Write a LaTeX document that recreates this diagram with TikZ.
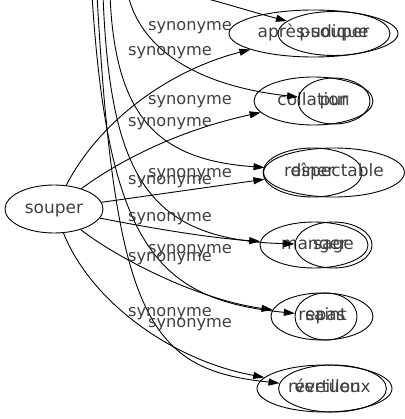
\documentclass[tikz,border=0pt]{standalone}
\usepackage{fontspec}
\setmainfont{DejaVu Sans}
\usepackage{tikz}
\usetikzlibrary{shapes.geometric}
\usetikzlibrary{arrows.meta}

\begin{document}
\begin{tikzpicture}[x=1pt, y=-1pt,
		mot/.style={ellipse, draw, line width=0.9pt, inner sep=0pt, text height=12pt, text depth=3.5pt, text=black!75, font=\fontsize{17}{19}\selectfont},
		lien/.style={line width=0.9pt, -{Triangle[length=11pt, width=7pt]}},
		syn/.style={text=black!75, inner sep=0pt, text height=12pt, text depth=3.5pt, font=\fontsize{16.2}{19}\selectfont}]
		\useasboundingbox (0,0) rectangle (404,419);
		% noeuds
		\node[mot, minimum width=98pt, minimum height=48pt] (souper) at (54,209) {souper};
		\node[mot, minimum width=169pt, minimum height=47pt] (apres) at (313.5,33.5) {après-souper};
		\node[mot, minimum width=112pt, minimum height=44pt] (pudique) at (334,33.5) {pudique};
		\node[mot, minimum width=119pt, minimum height=48pt] (collation) at (313.5,101) {collation};
		\node[mot, minimum width=72pt, minimum height=46pt] (pur) at (334,101) {pur};
		\node[mot, minimum width=99pt, minimum height=49pt] (diner) at (312.5,172.5) {dîner};
		\node[mot, minimum width=138pt, minimum height=49pt] (respectable) at (334,172.5) {respectable};
		\node[mot, minimum width=108pt, minimum height=46pt] (manger) at (314,245) {manger};
		\node[mot, minimum width=77pt, minimum height=46pt] (sage) at (333.5,245) {sage};
		\node[mot, minimum width=102pt, minimum height=47pt] (repas) at (322,316.5) {repas};
		\node[mot, minimum width=62pt, minimum height=47pt] (saint) at (326,316.5) {saint};
		\node[mot, minimum width=135pt, minimum height=47pt] (reveillon) at (324.5,388.5) {réveillon};
		\node[mot, minimum width=95pt, minimum height=47pt] (vertueux) at (332.5,388.5) {vertueux};
		% bouts hors cadre
		\coordinate (hpud) at (180,-8);
		\coordinate (hpur) at (128,-5);
		\coordinate (hres) at (110,-5);
		\coordinate (hsag) at (103,-5);
		\coordinate (hver) at (97,-5);
		\coordinate (hsai) at (92,-5);
		% liens depuis souper
		\draw[lien] (souper) .. controls (100,120) and (170,70) .. (apres);
		\draw[lien] (souper) .. controls (120,160) and (180,130) .. (collation);
		\draw[lien] (souper) -- (diner);
		\draw[lien] (souper) .. controls (150,228) and (210,238) .. (manger);
		\draw[lien] (souper) .. controls (120,260) and (200,300) .. (repas);
		\draw[lien] (souper) .. controls (90,300) and (170,360) .. (reveillon);
		% liens depuis le haut
		\draw[lien] (hpud) .. controls (215,0) and (245,10) .. (pudique);
		\draw[lien] (hpur) .. controls (140,45) and (190,85) .. (pur);
		\draw[lien] (hres) .. controls (115,120) and (160,160) .. (respectable);
		\draw[lien] (hsag) .. controls (110,180) and (150,240) .. (sage);
		\draw[lien] (hsai) .. controls (108,250) and (160,300) .. (saint);
		\draw[lien] (hver) .. controls (115,320) and (150,370) .. (vertueux);
		% etiquettes
		\node[syn] (s1) at (190,26) {synonyme};
		\node[syn] (s2) at (170,51) {synonyme};
		\node[syn] (s3) at (190,100) {synonyme};
		\node[syn] (s4) at (170,122) {synonyme};
		\node[syn] (s5) at (190,173) {synonyme};
		\node[syn] (s6) at (170,180) {synonyme};
		\node[syn] (s7) at (170,217) {synonyme};
		\node[syn] (s8) at (190,249) {synonyme};
		\node[syn] (s9) at (170,257) {synonyme};
		\node[syn] (s10) at (170,312) {synonyme};
		\node[syn] (s11) at (190,323) {synonyme};
	\end{tikzpicture}
\end{document}
